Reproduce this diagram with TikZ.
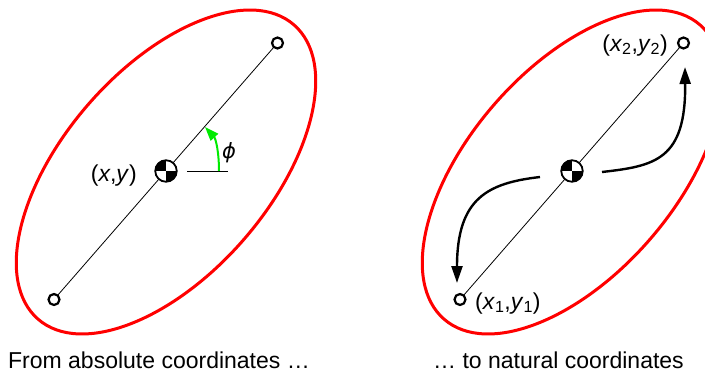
\documentclass[tikz,border=0pt]{standalone}
\usepackage{fontspec}
\setmainfont{Liberation Sans}
\newfontfamily\phifont{DejaVu Sans}
\usetikzlibrary{arrows.meta,backgrounds}
\definecolor{angleGreen}{RGB}{0,235,0}
\begin{document}
\begin{tikzpicture}[x=1pt,y=-1pt,
  body/.style={draw=red, line width=3pt},
  axisline/.style={draw=black, line width=0.8pt},
  refline/.style={draw=black, line width=1pt},
  endpt/.style={circle, draw=black, fill=white, line width=2.2pt, minimum size=11pt, inner sep=0pt},
  cmark/.style={circle, draw=black, fill=white, line width=1.8pt, minimum size=21.5pt, inner sep=0pt,
    path picture={\fill[black] (path picture bounding box.center) rectangle (path picture bounding box.north west);
                  \fill[black] (path picture bounding box.center) rectangle (path picture bounding box.south east);}},
  lbl/.style={font=\fontsize{23}{27}\selectfont, inner sep=0pt},
  movearrow/.style={draw=black, line width=2.4pt, -{Triangle[length=17pt,width=11pt]}},
  anglearrow/.style={draw=angleGreen, line width=2pt, -{Triangle[length=14pt,width=10pt]}},
]
\useasboundingbox (0,0) rectangle (705,372);
\clip (0,0) rectangle (705,372);

% left body
\node[cmark] (cA) at (166,171) {};
\node[endpt] (tA) at (277.5,43) {};
\node[endpt] (bA) at (54,299.5) {};
% right body
\node[cmark] (cB) at (572,171) {};
\node[endpt] (tB) at (683.5,43) {};
\node[endpt] (bB) at (460,299.5) {};

\begin{scope}[on background layer]
  \draw[body, rotate around={49:(166,172)}] (166,172) ellipse [x radius=195, y radius=103];
  \draw[body, rotate around={49:(572,172)}] (572,172) ellipse [x radius=195, y radius=103];
  \draw[axisline] (tA.center) -- (bA.center);
  \draw[axisline] (tB.center) -- (bB.center);
\end{scope}

% angle phi
\coordinate (h0) at (187,171);
\coordinate (h1) at (228,171);
\draw[refline] (h0) -- (h1);
\coordinate (arcS) at (219,171);
\coordinate (arcE) at (205,127);
\draw[anglearrow] (arcS) .. controls (219,153) and (216,139) .. (arcE);
\node[font=\phifont\itshape\fontsize{21}{24}\selectfont, inner sep=0pt] (phi) at (229,153) {ϕ};

% labels
\node[lbl, anchor=base east] (xyA) at (137,181) {(\textit{x},\textit{y})};
\node[lbl, anchor=base east] (lx2) at (668,51) {(\textit{x}\textsubscript{2},\textit{y}\textsubscript{2})};
\node[lbl, anchor=base west] (lx1) at (475,309) {(\textit{x}\textsubscript{1},\textit{y}\textsubscript{1})};

% motion arrows
\coordinate (s1) at (540,177);
\coordinate (e1) at (457,283);
\draw[movearrow] (s1) .. controls (488,183) and (457,198) .. (e1);
\coordinate (s2) at (602,172);
\coordinate (e2) at (685,67);
\draw[movearrow] (s2) .. controls (655,166) and (686,160) .. (e2);

% captions
\node[lbl, anchor=base] (capA) at (159,368) {From absolute coordinates …};
\node[lbl, anchor=base] (capB) at (558.5,368) {… to natural coordinates};
\end{tikzpicture}
\end{document}
